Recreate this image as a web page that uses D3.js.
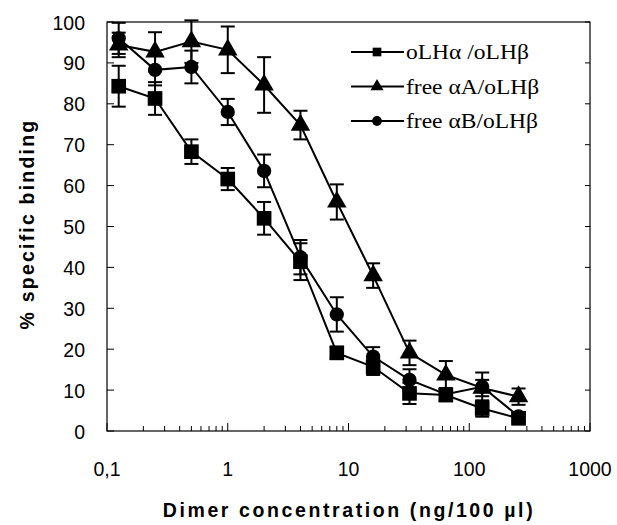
<!DOCTYPE html>
<html>
<head>
<meta charset="utf-8">
<script src="https://cdn.jsdelivr.net/npm/d3@7"></script>
<style>
  body { margin: 0; background: #fff; }
  svg { display: block; }
</style>
</head>
<body>
<div id="chart"></div>
<script>
// doses (ng/100 µl), one per point
const doses = [0.125, 0.25, 0.5, 1, 2, 4, 8, 16, 32, 64, 128, 256];

// % specific binding and error bars
const lhValues   = [84.3, 81.3, 68.3, 61.6, 52, 41.4, 19.1, 15.7, 9.2, 8.8, 5.5, 3.1];
const lhErrors   = [5, 4, 3, 2.7, 4, 4.5, 1.5, 2, 2.6, 1.5, 2, 1];
const freeAValues = [94.4, 92.7, 95.2, 93.2, 84.6, 74.8, 56, 38, 19.1, 13.7, 10.5, 8.4];
const freeAErrors = [3, 4.8, 5.2, 5.7, 6.8, 3.5, 4.3, 3, 3, 3.4, 2, 2];
const freeBValues = [96, 88.3, 89, 78, 63.6, 42.5, 28.5, 18.2, 12.5, 9, 10.8, 3.6];
const freeBErrors = [3.8, 3.8, 4, 3.2, 4, 4.2, 4.2, 2.3, 2.6, 1.5, 3.5, 1];

const seriesNames = ["oLH\u03b1 /oLH\u03b2", "free \u03b1A/oLH\u03b2", "free \u03b1B/oLH\u03b2"];
const xTickValues = [0.1, 1, 10, 100, 1000];
const xTickLabels = ["0,1", "1", "10", "100", "1000"];
const yTickValues = [0, 10, 20, 30, 40, 50, 60, 70, 80, 90, 100];

const width = 617, height = 525;
const margin = { top: 22, right: 27, bottom: 94, left: 107 };
const innerW = width - margin.left - margin.right;
const innerH = height - margin.top - margin.bottom;

const svg = d3.select("#chart").append("svg")
    .attr("width", width)
    .attr("height", height);

const g = svg.append("g")
    .attr("transform", `translate(${margin.left},${margin.top})`);

const x = d3.scaleLog().domain([0.1, 1000]).range([0, innerW]);
const y = d3.scaleLinear().domain([0, 100]).range([innerH, 0]);

const tickFont = "'Liberation Sans', Arial, sans-serif";

// frame
g.append("rect")
    .attr("width", innerW)
    .attr("height", innerH)
    .attr("fill", "none")
    .attr("stroke", "#000")
    .attr("stroke-width", 1.2);

// x minor + major ticks (inside)
const minor = [];
for (let e = -1; e < 3; e++) {
    for (let m = 2; m <= 9; m++) minor.push(m * Math.pow(10, e));
}
g.selectAll("line.xminor")
    .data(minor)
    .join("line")
    .attr("class", "xminor")
    .attr("x1", d => x(d)).attr("x2", d => x(d))
    .attr("y1", innerH).attr("y2", innerH - 5)
    .attr("stroke", "#000");
g.selectAll("line.xmajor")
    .data(xTickValues)
    .join("line")
    .attr("class", "xmajor")
    .attr("x1", d => x(d)).attr("x2", d => x(d))
    .attr("y1", innerH).attr("y2", innerH - 8)
    .attr("stroke", "#000");

// y ticks inside, both sides
g.selectAll("line.yl")
    .data(yTickValues)
    .join("line")
    .attr("class", "yl")
    .attr("x1", 0).attr("x2", 7)
    .attr("y1", d => y(d)).attr("y2", d => y(d))
    .attr("stroke", "#000");
g.selectAll("line.yr")
    .data(yTickValues)
    .join("line")
    .attr("class", "yr")
    .attr("x1", innerW).attr("x2", innerW - 5)
    .attr("y1", d => y(d)).attr("y2", d => y(d))
    .attr("stroke", "#000");

// tick labels
g.selectAll("text.ylab")
    .data(yTickValues)
    .join("text")
    .attr("class", "ylab")
    .attr("x", -22)
    .attr("y", d => y(d) + 7.5)
    .attr("text-anchor", "end")
    .style("font-family", tickFont)
    .style("font-size", "19.5px")
    .text(d => d);

g.selectAll("text.xlab")
    .data(xTickValues)
    .join("text")
    .attr("class", "xlab")
    .attr("x", d => x(d))
    .attr("y", innerH + 45)
    .attr("text-anchor", "middle")
    .style("font-family", tickFont)
    .style("font-size", "19.5px")
    .text((d, i) => xTickLabels[i]);

// axis titles
svg.append("text")
    .attr("x", 349)
    .attr("y", 517)
    .attr("text-anchor", "middle")
    .style("font-family", tickFont)
    .style("font-weight", "bold")
    .style("font-size", "19.5px")
    .style("letter-spacing", "2.6px")
    .text("Dimer concentration (ng/100 \u00b5l)");

svg.append("text")
    .attr("transform", "translate(34,224) rotate(-90)")
    .attr("text-anchor", "middle")
    .style("font-family", tickFont)
    .style("font-weight", "bold")
    .style("font-size", "19.5px")
    .style("letter-spacing", "2.2px")
    .text("% specific binding");

// series
const series = [
    { name: seriesNames[0], values: lhValues, errors: lhErrors, shape: d3.symbolSquare, size: 215 },
    { name: seriesNames[1], values: freeAValues, errors: freeAErrors, shape: d3.symbolTriangle, size: 165 },
    { name: seriesNames[2], values: freeBValues, errors: freeBErrors, shape: d3.symbolCircle, size: 160 }
];

const line = d3.line()
    .x(d => x(d.dose))
    .y(d => y(d.value));

const capW = 7;

series.forEach(s => {
    const pts = doses.map((dose, i) => ({ dose, value: s.values[i], err: s.errors[i] }));
    const sg = g.append("g");

    sg.append("path")
        .datum(pts)
        .attr("d", line)
        .attr("fill", "none")
        .attr("stroke", "#000")
        .attr("stroke-width", 2);

    const eb = sg.selectAll("g.err")
        .data(pts)
        .join("g")
        .attr("class", "err")
        .attr("stroke", "#000")
        .attr("stroke-width", 2);
    eb.append("line")
        .attr("x1", d => x(d.dose)).attr("x2", d => x(d.dose))
        .attr("y1", d => y(d.value + d.err)).attr("y2", d => y(d.value - d.err));
    eb.append("line")
        .attr("x1", d => x(d.dose) - capW).attr("x2", d => x(d.dose) + capW)
        .attr("y1", d => y(d.value + d.err)).attr("y2", d => y(d.value + d.err));
    eb.append("line")
        .attr("x1", d => x(d.dose) - capW).attr("x2", d => x(d.dose) + capW)
        .attr("y1", d => y(d.value - d.err)).attr("y2", d => y(d.value - d.err));

    sg.selectAll("path.mark")
        .data(pts)
        .join("path")
        .attr("class", "mark")
        .attr("transform", d => `translate(${x(d.dose)},${y(d.value)})`)
        .attr("d", d3.symbol().type(s.shape).size(s.size))
        .attr("fill", "#000");
});

// legend
const legend = svg.append("g").attr("transform", "translate(351,52)");
series.forEach((s, i) => {
    const row = legend.append("g").attr("transform", `translate(0,${i * 34.5})`);
    row.append("line")
        .attr("x1", 0).attr("x2", 53)
        .attr("stroke", "#000")
        .attr("stroke-width", 2);
    row.append("path")
        .attr("transform", "translate(26,0)")
        .attr("d", d3.symbol().type(s.shape).size(75))
        .attr("fill", "#000");
    row.append("text")
        .attr("transform", "translate(55,7) scale(1.12,1)")
        .style("font-family", "'Liberation Serif', 'Times New Roman', serif")
        .style("font-size", "21px")
        .text(s.name);
});
</script>
</body>
</html>
